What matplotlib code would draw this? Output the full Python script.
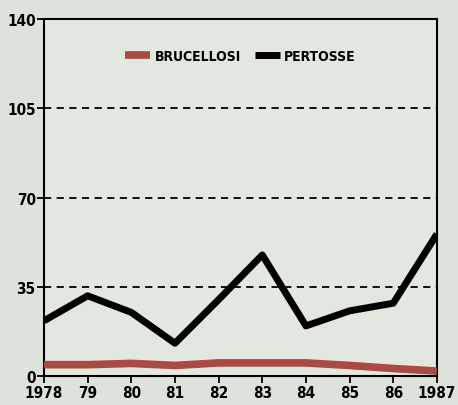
import numpy as np
import matplotlib.pyplot as plt
from matplotlib import font_manager

# === Data ===
years = [1978, 1979, 1980, 1981, 1982, 1983, 1984, 1985, 1986, 1987]
year_labels = ['1978', '79', '80', '81', '82', '83', '84', '85', '86', '1987']
brucellosi = [4.5, 4.5, 5.0, 4.2, 5.2, 5.2, 5.2, 4.2, 3.0, 2.0]
pertosse = [21.7, 31.5, 25.0, 12.9, 30.0, 47.5, 19.7, 25.6, 28.6, 55.7]
y_ticks = [0, 35, 70, 105, 140]

# narrow bold face, like the original print
cond = [f for f in font_manager.fontManager.ttflist
        if 'Condensed' in f.fname and 'Bold' in f.fname and 'Oblique' not in f.fname
        and 'Italic' not in f.fname]
cond.sort(key=lambda f: ('DejaVuSans' not in f.fname, f.fname))
fp = font_manager.FontProperties(fname=cond[0].fname) if cond else \
    font_manager.FontProperties(family='DejaVu Sans', weight='bold')

bg = '#dde2da'
fig = plt.figure(figsize=(4.58, 4.06), dpi=100, facecolor=bg)
ax = fig.add_axes([0.096, 0.071, 0.858, 0.880], facecolor='#e2e7df')

for y in y_ticks[1:-1]:
    ax.axhline(y, color='black', linestyle=(0, (4, 3)), linewidth=1.3, zorder=1)

ax.plot(years, brucellosi, color='#aa4a40', linewidth=5.5, label='BRUCELLOSI',
        solid_capstyle='butt', zorder=3)
ax.plot(years, pertosse, color='black', linewidth=5, label='PERTOSSE',
        solid_capstyle='butt', zorder=4)

ax.set_xlim(years[0], years[-1])
ax.set_ylim(0, 140)
ax.set_xticks(years)
ax.set_xticklabels(year_labels)
ax.set_yticks(y_ticks)
ax.tick_params(axis='both', direction='out', length=5, width=1.3, colors='black')
ax.tick_params(axis='y', pad=1)
ax.tick_params(axis='x', pad=1)
for lab in ax.get_xticklabels() + ax.get_yticklabels():
    lab.set_fontproperties(fp)
    lab.set_fontsize(11)

for s in ax.spines.values():
    s.set_linewidth(1.5)
    s.set_color('black')

lp = fp.copy()
lp.set_size(10)
leg = ax.legend(loc='upper center', bbox_to_anchor=(0.5, 0.95), ncol=2,
                frameon=False, handlelength=1.8, handletextpad=0.3,
                columnspacing=1.0, prop=lp)

fig.savefig('out.png', dpi=100, facecolor=bg)
plt.close()
